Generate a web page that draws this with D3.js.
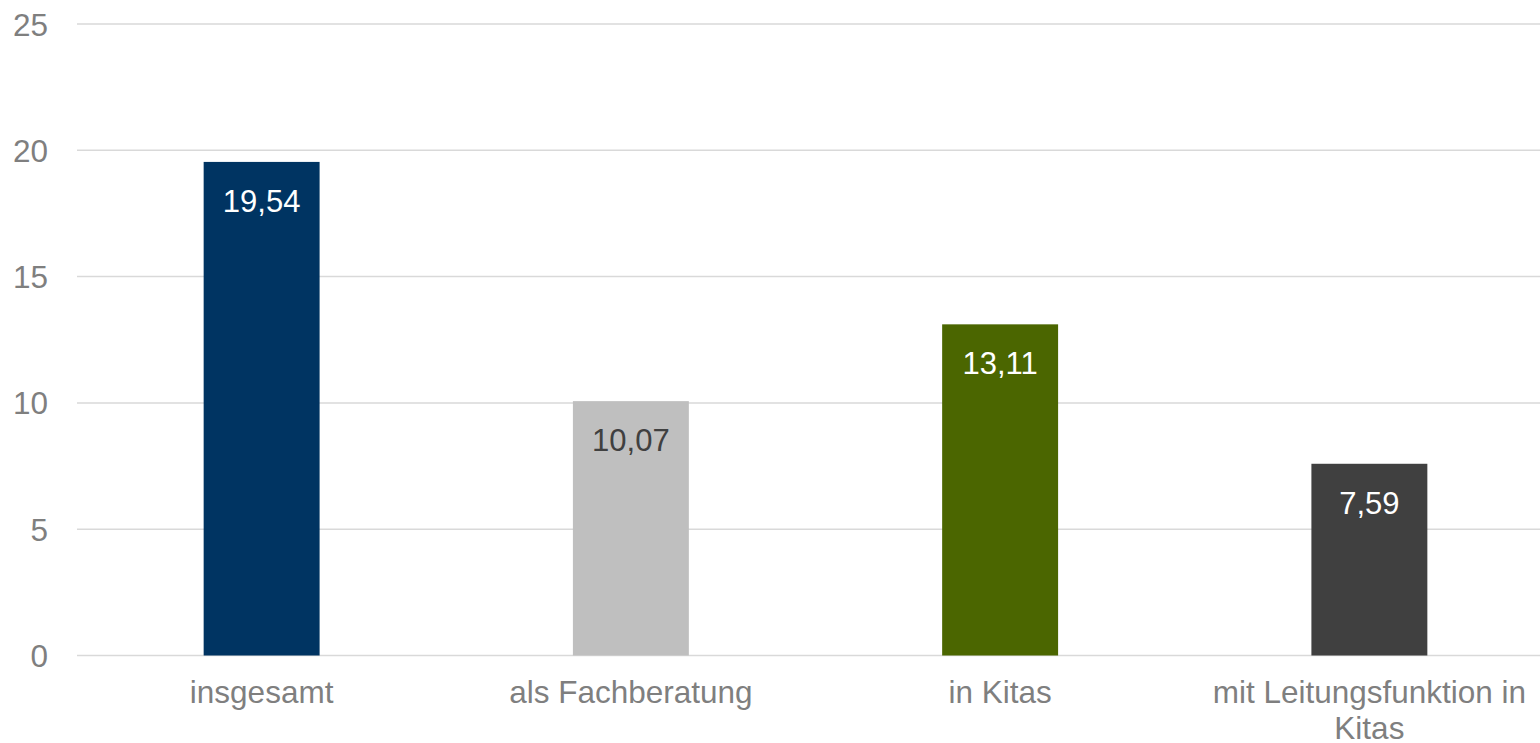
<!DOCTYPE html>
<html>
<head>
<meta charset="utf-8">
<script src="https://cdn.jsdelivr.net/npm/d3@7"></script>
<style>
  body { margin: 0; background: #fff; }
  svg text { font-family: "Liberation Sans", Arial, sans-serif; }
</style>
</head>
<body>
<svg id="chart" width="1540" height="743"></svg>
<script>
/** Category names (x axis), one line per array entry */
var categories = [
    ['insgesamt'],
    ['als Fachberatung'],
    ['in Kitas'],
    ['mit Leitungsfunktion in', 'Kitas']
];

/** Bar values and their printed labels */
var values = [19.54, 10.07, 13.11, 7.59];
var valueLabels = ['19,54', '10,07', '13,11', '7,59'];

/** Bar fill and label colours */
var barColors = ['#003462', '#bfbfbf', '#4b6600', '#404040'];
var labelColors = ['#ffffff', '#404040', '#ffffff', '#ffffff'];

/** Y axis ticks */
var yTicks = [0, 5, 10, 15, 20, 25];

var svg = d3.select('#chart');

// Setup the scales
var yScale = d3.scaleLinear()
    .domain([0, 25])
    .range([655.5, 24]);

var xScale = d3.scaleBand()
    .domain(d3.range(categories.length))
    .range([77, 1554])
    .paddingInner(0.686)
    .paddingOuter(0.343);

// Gridlines
svg.append('g')
    .selectAll('line')
    .data(yTicks)
    .enter()
    .append('line')
    .attr('x1', 77)
    .attr('x2', 1540)
    .attr('y1', function(d) { return yScale(d); })
    .attr('y2', function(d) { return yScale(d); })
    .attr('stroke', '#d9d9d9')
    .attr('stroke-width', 1.5);

// Y tick labels
svg.append('g')
    .selectAll('text')
    .data(yTicks)
    .enter()
    .append('text')
    .attr('x', 48)
    .attr('y', function(d) { return yScale(d) + 11.5; })
    .attr('text-anchor', 'end')
    .attr('font-size', 31.5)
    .attr('fill', '#7f7f7f')
    .text(function(d) { return d; });

// Bars
svg.append('g')
    .selectAll('rect')
    .data(values)
    .enter()
    .append('rect')
    .attr('x', function(d, i) { return xScale(i); })
    .attr('y', function(d) { return yScale(d); })
    .attr('width', xScale.bandwidth())
    .attr('height', function(d) { return yScale(0) - yScale(d); })
    .attr('fill', function(d, i) { return barColors[i]; });

// Value labels inside the bars
svg.append('g')
    .selectAll('text')
    .data(values)
    .enter()
    .append('text')
    .attr('x', function(d, i) { return xScale(i) + xScale.bandwidth() / 2; })
    .attr('y', function(d) { return yScale(d) + 50; })
    .attr('text-anchor', 'middle')
    .attr('font-size', 31)
    .attr('fill', function(d, i) { return labelColors[i]; })
    .text(function(d, i) { return valueLabels[i]; });

// Category labels
var catText = svg.append('g')
    .selectAll('text')
    .data(categories)
    .enter()
    .append('text')
    .attr('text-anchor', 'middle')
    .attr('font-size', 31.5)
    .attr('fill', '#7f7f7f');

catText.selectAll('tspan')
    .data(function(d, i) {
        return d.map(function(line) { return { line: line, i: i }; });
    })
    .enter()
    .append('tspan')
    .attr('x', function(d) { return xScale(d.i) + xScale.bandwidth() / 2; })
    .attr('y', function(d, j) { return 703 + j * 36; })
    .text(function(d) { return d.line; });
</script>
</body>
</html>
